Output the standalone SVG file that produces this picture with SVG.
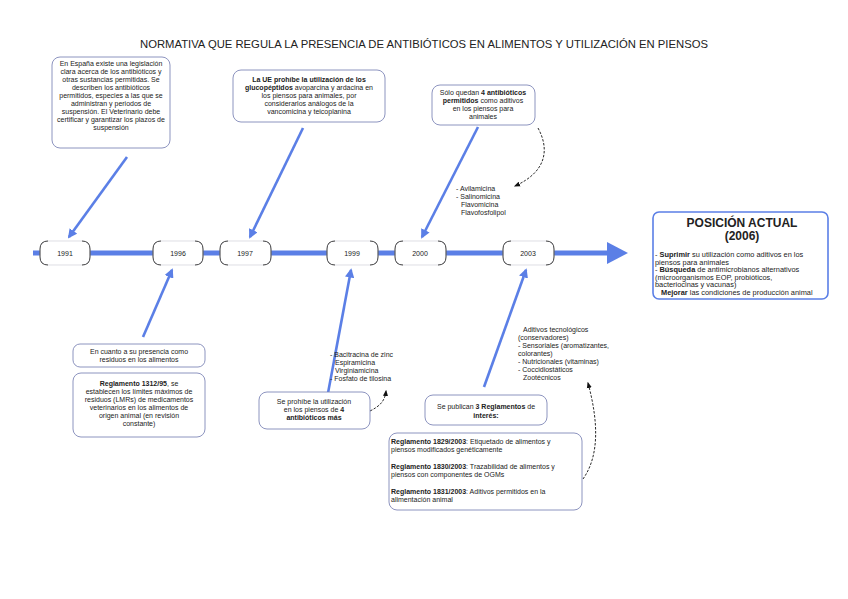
<svg xmlns="http://www.w3.org/2000/svg" width="848" height="599" viewBox="0 0 848 599">
<defs>
<marker id="ah" viewBox="0 0 10 10" refX="8" refY="5" markerWidth="3.6" markerHeight="3.6" orient="auto"><path d="M0,0 L10,5 L0,10 z" fill="#5b7fe6"/></marker>
<marker id="dh" viewBox="0 0 10 10" refX="8" refY="5" markerWidth="7" markerHeight="7" orient="auto"><path d="M0,1 L10,5 L0,9 z" fill="#111"/></marker>
<style>
text{font-family:"Liberation Sans",Arial,sans-serif;fill:#222;font-size:7px}
.c{text-anchor:middle}
.b{font-weight:bold}
.p{font-size:7.4px}
.box{fill:#fff;stroke:#8088b8;stroke-width:0.9}
.yr{fill:#fff;stroke:#d0d0d8;stroke-width:0.7}
.br{fill:none;stroke:#333;stroke-width:0.9}
.ar{stroke:#5b7fe6;stroke-width:2.6;fill:none;marker-end:url(#ah)}
.da{stroke:#111;stroke-width:0.9;fill:none;stroke-dasharray:2.5,1.5;marker-end:url(#dh)}
</style>
</defs>
<rect width="848" height="599" fill="#fff"/>
<text x="424" y="48" class="c" style="font-size:10.5px" textLength="568" lengthAdjust="spacingAndGlyphs">NORMATIVA QUE REGULA LA PRESENCIA DE ANTIBIÓTICOS EN ALIMENTOS Y UTILIZACIÓN EN PIENSOS</text>

<g id="connectors">
<line x1="33" y1="253" x2="610" y2="253" stroke="#5b7fe6" stroke-width="5"/>
<polygon points="607,242 628,253 607,264" fill="#5b7fe6"/>
<line class="ar" x1="127" y1="157" x2="69" y2="237"/>
<line class="ar" x1="303" y1="128" x2="250" y2="237"/>
<line class="ar" x1="478" y1="127" x2="422" y2="237"/>
<line class="ar" x1="143" y1="337" x2="172" y2="270"/>
<line class="ar" x1="328" y1="393" x2="351" y2="270"/>
<line class="ar" x1="484" y1="387" x2="526" y2="270"/>
<path class="da" d="M538,128 C550,150 546,172 515,186"/>
<path class="da" d="M370,411 C380,406 385,401 386,391"/>
<path class="da" d="M583,479 C600,455 598,420 588,383"/>
</g>

<g id="n1991"><rect class="yr" x="40" y="241" width="50" height="24" rx="8"/><path class="br" d="M48,241 Q40,241 40,249 L40,257 Q40,265 48,265 M82,241 Q90,241 90,249 L90,257 Q90,265 82,265"/><text x="65" y="256" class="c">1991</text></g>
<g id="n1996"><rect class="yr" x="153" y="241" width="50" height="24" rx="8"/><path class="br" d="M161,241 Q153,241 153,249 L153,257 Q153,265 161,265 M195,241 Q203,241 203,249 L203,257 Q203,265 195,265"/><text x="178" y="256" class="c">1996</text></g>
<g id="n1997"><rect class="yr" x="220" y="241" width="51" height="24" rx="8"/><path class="br" d="M228,241 Q220,241 220,249 L220,257 Q220,265 228,265 M263,241 Q271,241 271,249 L271,257 Q271,265 263,265"/><text x="245" y="256" class="c">1997</text></g>
<g id="n1999"><rect class="yr" x="327" y="241" width="51" height="24" rx="8"/><path class="br" d="M335,241 Q327,241 327,249 L327,257 Q327,265 335,265 M370,241 Q378,241 378,249 L378,257 Q378,265 370,265"/><text x="352" y="256" class="c">1999</text></g>
<g id="n2000"><rect class="yr" x="395" y="241" width="51" height="24" rx="8"/><path class="br" d="M403,241 Q395,241 395,249 L395,257 Q395,265 403,265 M438,241 Q446,241 446,249 L446,257 Q446,265 438,265"/><text x="420" y="256" class="c">2000</text></g>
<g id="n2003"><rect class="yr" x="503" y="241" width="51" height="24" rx="8"/><path class="br" d="M511,241 Q503,241 503,249 L503,257 Q503,265 511,265 M546,241 Q554,241 554,249 L554,257 Q554,265 546,265"/><text x="528" y="256" class="c">2003</text></g>

<g id="espana"><rect class="box" x="52" y="57" width="118" height="91" rx="8"/>
<text class="c" x="111" y="66">En España existe una legislación</text>
<text class="c" x="111" y="74">clara acerca de los antibióticos y</text>
<text class="c" x="111" y="82">otras sustancias permitidas. Se</text>
<text class="c" x="111" y="90">describen los antibióticos</text>
<text class="c" x="111" y="98">permitidos, especies a las que se</text>
<text class="c" x="111" y="106">administran y periodos de</text>
<text class="c" x="111" y="114">suspensión. El Veterinario debe</text>
<text class="c" x="111" y="122">certificar y garantizar los plazos de</text>
<text class="c" x="111" y="130">suspensión</text></g>

<g id="ue"><rect class="box" x="233" y="70" width="152" height="52" rx="8"/>
<text class="c b" x="309" y="82">La UE prohíbe la utilización de los</text>
<text class="c" x="309" y="90"><tspan class="b">glucopéptidos</tspan> avoparcina y ardacina en</text>
<text class="c" x="309" y="98">los piensos para animales, por</text>
<text class="c" x="309" y="106">considerarlos análogos de la</text>
<text class="c" x="309" y="114">vancomicina y teicoplanina</text></g>

<g id="solo4"><rect class="box" x="432" y="85" width="103" height="40" rx="8"/>
<text class="c" x="483" y="95">Sólo quedan <tspan class="b">4 antibióticos</tspan></text>
<text class="c" x="483" y="103"><tspan class="b">permitidos</tspan> como aditivos</text>
<text class="c" x="483" y="111">en los piensos para</text>
<text class="c" x="483" y="119">animales</text></g>

<g id="lista2000">
<text x="456" y="191">- Avilamicina</text>
<text x="456" y="199">- Salinomicina</text>
<text x="461" y="207">Flavomicina</text>
<text x="461" y="215">Flavofosfolipol</text></g>

<g id="actual"><rect x="653" y="212" width="175" height="87" rx="6" fill="#fff" stroke="#5b7fe6" stroke-width="1.6"/>
<text class="c b" x="742" y="227" style="font-size:12px">POSICIÓN ACTUAL</text>
<text class="c b" x="742" y="240" style="font-size:12px">(2006)</text>
<text class="p" x="655" y="257">- <tspan class="b">Suprimir</tspan> su utilización como aditivos en los</text>
<text class="p" x="655" y="264.5">piensos para animales</text>
<text class="p" x="655" y="272">- <tspan class="b">Búsqueda</tspan> de antimicrobianos alternativos</text>
<text class="p" x="655" y="279.5">(microorganismos EOP, probióticos,</text>
<text class="p" x="655" y="287">bacteriocinas y vacunas)</text>
<text class="p" x="661" y="294.5"><tspan class="b">Mejorar</tspan> las condiciones de producción animal</text></g>

<g id="residuos"><rect class="box" x="73" y="344" width="132" height="23" rx="7"/>
<text class="c" x="139" y="354">En cuanto a su presencia como</text>
<text class="c" x="139" y="362">residuos en los alimentos</text></g>

<g id="r1312"><rect class="box" x="73" y="373" width="132" height="64" rx="8"/>
<text class="c" x="139" y="386"><tspan class="b">Reglamento 1312/95</tspan>, se</text>
<text class="c" x="139" y="394">establecen los límites máximos de</text>
<text class="c" x="139" y="402">residuos (LMRs) de medicamentos</text>
<text class="c" x="139" y="410">veterinarios en los alimentos de</text>
<text class="c" x="139" y="418">origen animal (en revisión</text>
<text class="c" x="139" y="426">constante)</text></g>

<g id="lista1999">
<text x="330" y="357">- Bacitracina de zinc</text>
<text x="335" y="365">Espiramicina</text>
<text x="335" y="373">Virginiamicina</text>
<text x="330" y="381">- Fosfato de tilosina</text></g>

<g id="prohibe4"><rect class="box" x="259" y="392" width="111" height="37" rx="8"/>
<text class="c" x="314" y="404">Se prohíbe la utilización</text>
<text class="c" x="314" y="412">en los piensos de <tspan class="b">4</tspan></text>
<text class="c b" x="314" y="420">antibióticos más</text></g>

<g id="lista2003">
<text x="523" y="332">Aditivos tecnológicos</text>
<text x="518" y="340">(conservadores)</text>
<text x="518" y="348">- Sensoriales (aromatizantes,</text>
<text x="518" y="356">colorantes)</text>
<text x="518" y="364">- Nutricionales (vitaminas)</text>
<text x="518" y="372">- Coccidiostáticos</text>
<text x="523" y="380">Zootécnicos</text></g>

<g id="publican"><rect class="box" x="425" y="395" width="122" height="30" rx="8"/>
<text class="c" x="486" y="409">Se publican <tspan class="b">3 Reglamentos</tspan> de</text>
<text class="c b" x="486" y="418">interés:</text></g>

<g id="reglamentos"><rect class="box" x="389" y="433" width="193" height="77" rx="8"/>
<text x="391" y="444"><tspan class="b">Reglamento 1829/2003</tspan>: Etiquetado de alimentos y</text>
<text x="391" y="452">piensos modificados genéticamente</text>
<text x="391" y="469"><tspan class="b">Reglamento 1830/2003</tspan>: Trazabilidad de alimentos y</text>
<text x="391" y="477">piensos con componentes de OGMs</text>
<text x="391" y="494"><tspan class="b">Reglamento 1831/2003</tspan>: Aditivos permitidos en la</text>
<text x="391" y="502">alimentación animal</text></g>
</svg>
